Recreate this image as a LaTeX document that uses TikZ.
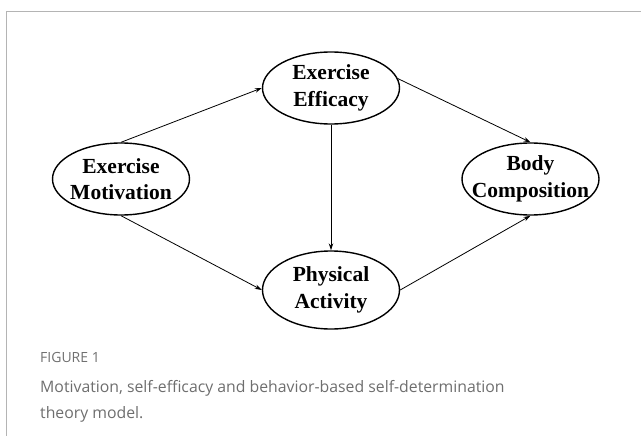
\documentclass[tikz,border=0pt]{standalone}
\usepackage{fontspec}
\setmainfont{Liberation Serif}
\newfontfamily\capfont{Open Sans}
\usetikzlibrary{shapes.geometric,arrows.meta}
\definecolor{framegray}{HTML}{B4B4B4}
\definecolor{capgray}{HTML}{6E6E6E}
\definecolor{figgray}{HTML}{707070}
\begin{document}
\begin{tikzpicture}[x=1pt,y=-1pt,
  ell/.style={draw, ellipse, line width=1.4pt, minimum width=137pt, minimum height=72pt,
    inner xsep=-35pt, inner ysep=0pt, font=\bfseries\fontsize{21.5}{26.5}\selectfont, align=center},
  arr/.style={-{Stealth[length=7pt,width=4.5pt]}, line width=0.8pt},
  captext/.style={anchor=base west, text=capgray, font=\capfont\fontsize{15.8}{20}\selectfont, inner sep=0pt}]
\useasboundingbox (0,0) rectangle (641,436);
\draw[framegray, line width=1pt] (6,437) -- (6,12) -- (642,12);
\node[ell] (eff) at (331,88) {Exercise\\Efficacy};
\node[ell] (mot) at (121,179) {Exercise\\Motivation};
\node[ell] (body) at (530.5,179) {Body\\Composition};
\node[ell, minimum height=78pt] (phys) at (331,290) {Physical\\Activity};
\draw[arr] (mot.north) -- (eff.west);
\draw[arr] (mot.south) -- (phys.west);
\draw[arr] (eff.8) -- (body.north);
\draw[arr] (eff.south) -- (phys.north);
\draw[arr] (phys.east) -- (body.south);
\node[anchor=base west, text=figgray, font=\capfont\fontsize{14}{16}\selectfont, inner sep=0pt] (fig) at (40,362) {FIGURE 1};
\node[captext] (cap1) at (40,392) {Motivation, self-efficacy and behavior-based self-determination};
\node[captext] (cap2) at (40,418) {theory model.};
\end{tikzpicture}
\end{document}
